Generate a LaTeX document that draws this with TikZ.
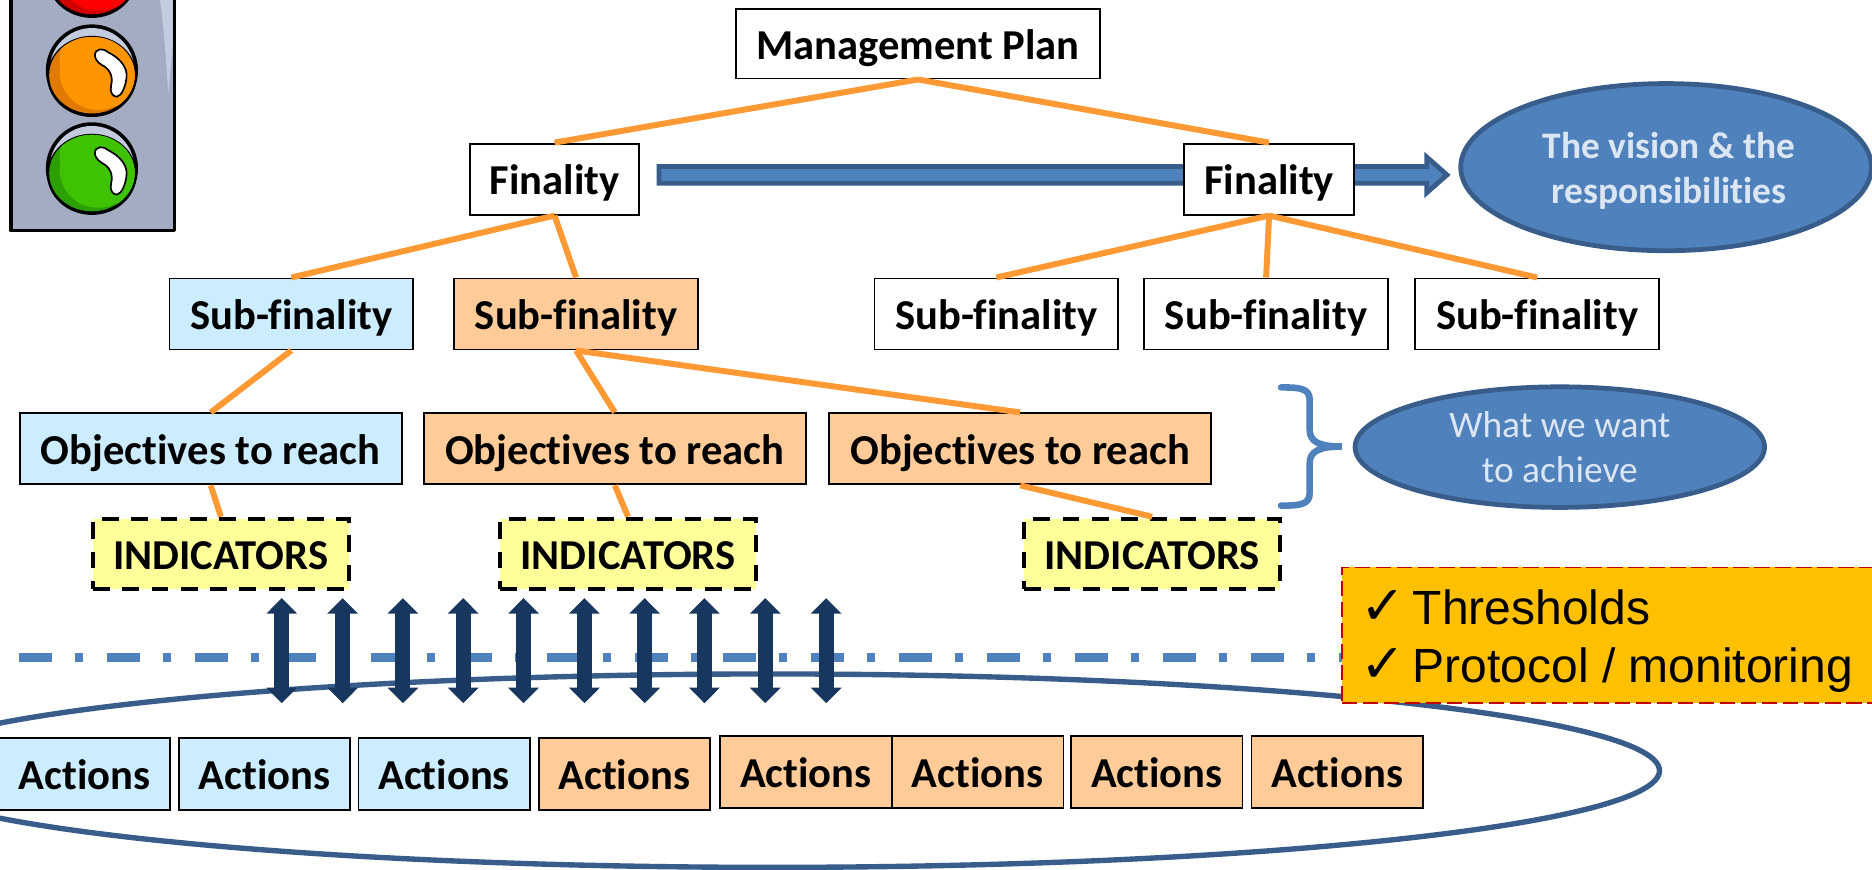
\documentclass[tikz,border=0pt]{standalone}
\usepackage{fontspec}
\setmainfont[Ligatures=NoCommon]{Carlito}
\newfontfamily\arialf{Liberation Sans}
\newfontfamily\dejaf{DejaVu Sans}
\usetikzlibrary{arrows.meta,calc,shapes.geometric}
\definecolor{lblue}{HTML}{CCECFF}
\definecolor{lorange}{HTML}{FFCC99}
\definecolor{lyellow}{HTML}{FFFF99}
\definecolor{conn}{HTML}{FF9933}
\definecolor{accent}{HTML}{4F81BD}
\definecolor{accentd}{HTML}{385D8A}
\definecolor{navyd}{HTML}{17375E}
\definecolor{ptext}{HTML}{DCE6F2}
\definecolor{amber}{HTML}{FFC000}
\definecolor{slate}{HTML}{A3ACC2}
\definecolor{slatel}{HTML}{C3CBDF}
\definecolor{redA}{HTML}{FF0000}
\definecolor{redB}{HTML}{D00000}
\definecolor{orgA}{HTML}{FF9500}
\definecolor{orgB}{HTML}{E07A00}
\definecolor{grnA}{HTML}{3FC300}
\definecolor{grnB}{HTML}{2CA000}
\newcommand{\uu}{0.597pt}
\newcommand{\chk}{\makebox[23.9pt][l]{\hspace*{-2.5pt}\smash{\dejaf\fontsize{27}{27}\selectfont ✓}}}
\tikzset{
 x=0.597pt,y=-0.597pt,
 boxbase/.style={draw=black,line width=1.6*\uu,inner sep=0pt,text height=18pt,text depth=2.4pt,font=\fontsize{21.3}{25}\selectfont\bfseries,text=black,align=center},
 mgmtbox/.style={boxbase,fill=white,minimum width=305*\uu,minimum height=58.5*\uu},
 finbox/.style={boxbase,fill=white,minimum width=142*\uu,minimum height=59.5*\uu},
 subbox/.style={boxbase,minimum width=204*\uu,minimum height=59.5*\uu},
 objbox/.style={boxbase,minimum width=320*\uu,minimum height=59.5*\uu},
 indbox/.style={boxbase,fill=lyellow,dash pattern=on 14*\uu off 10.5*\uu,line width=3.4*\uu,minimum width=214*\uu,minimum height=59*\uu},
 actbox/.style={boxbase,minimum width=143.5*\uu,minimum height=60.5*\uu},
 bubble/.style={ellipse,draw=accentd,fill=accent,line width=4*\uu,text=ptext,align=center,inner sep=0pt,font=\fontsize{18.7}{22.5}\selectfont},
 bubbletext/.style={text=ptext,align=center,inner sep=0pt},
 link/.style={draw=conn,line width=5*\uu},
 dbl/.style={draw=navyd,line width=12.5*\uu,{Triangle[length=13*\uu,width=25*\uu]}-{Triangle[length=13*\uu,width=25*\uu]}},
}
\newcommand{\lamp}[3]{%
 \begin{scope}[shift={#1}]
  \fill[black] (0,0) circle[radius=38.6];
  \fill[slatel] (0,0) circle[radius=35.5];
  \fill[black] (0,5) ellipse[x radius=37.5,y radius=34];
  \begin{scope}
   \clip (0,4) ellipse[x radius=35.8,y radius=32];
   \fill[#3] (-40,-40) rectangle (40,40);
   \fill[#2] (5,1) circle[radius=32];
   \fill[#2] (5,-10) circle[radius=32];
   \fill[#2] (25,0) circle[radius=30];
  \end{scope}
  \path[fill=white,draw=black,line width=1.4*\uu] (2.5,-12) .. controls (2,-19) and (10,-19) .. (14,-15) .. controls (24,-10) and (30,-2) .. (29,6) .. controls (28,14) and (25,21) .. (21,22) .. controls (17,22) and (15,18) .. (16,13) .. controls (18,5) and (15,0) .. (11,-3) .. controls (7,-5) and (3,-8) .. (2.5,-12) -- cycle;
 \end{scope}}
\begin{document}
\begin{tikzpicture}
\path[use as bounding box,clip] (0,0) rectangle (1568,728.7);
\fill[white] (0,0) rectangle (1568,728.7);
% traffic light
\path[fill=slate,draw=black,line width=3*\uu,line join=round] (9,-10) -- (9,193) -- (146,193) -- (146,-10) -- cycle;
\fill[slatel] (134,0) -- (144.5,0) -- (144.5,40) -- (141,78) .. controls (139,50) and (137,20) .. (134,0) -- cycle;
\lamp{(77,-24)}{redA}{redB}
\lamp{(77,59)}{orgA}{orgB}
\lamp{(77,141)}{grnA}{grnB}
% dash-dot separator
\coordinate (sepL) at (16,551);
\coordinate (sepR) at (1130,551);
\draw[accent,line width=7.5*\uu,dash pattern=on 27.4*\uu off 19.3*\uu on 7*\uu off 20*\uu] (sepL) -- (sepR);
% big ellipse
\node[ellipse,draw=accentd,line width=4.5*\uu,minimum width=1486*\uu,minimum height=162*\uu,inner sep=0pt] (actset) at (647,645.5) {};
% orange box
\node[draw=red!75!black,dash pattern=on 12.8*\uu off 4.8*\uu,line width=1.5*\uu,fill=amber,minimum width=448*\uu,minimum height=113.5*\uu,inner sep=0pt] (noteb) at (1348,532) {};
\node[anchor=west,inner sep=0pt,align=left,font=\arialf\fontsize{24}{29}\selectfont,text=black] (notet) at (1143,537) {\chk Thresholds\\\chk Protocol / monitoring};
% main arrow
\coordinate (arrL) at (552,146.5);
\coordinate (arrT) at (1212,146.5);
\path[fill=accent,draw=accentd,line width=4*\uu,line join=miter] ($(arrL)+(0,-7)$) -- ($(arrT)+(-17,-7)$) -- ($(arrT)+(-17,-15)$) -- (arrT) -- ($(arrT)+(-17,15)$) -- ($(arrT)+(-17,7)$) -- ($(arrL)+(0,7)$) -- cycle;
% nodes
\node[mgmtbox] (plan) at (769,36.5) {Management Plan};
\node[finbox] (finA) at (464.5,150) {Finality};
\node[finbox] (finB) at (1063,150) {Finality};
\node[subbox,fill=lblue] (subA) at (244,263) {Sub-finality};
\node[subbox,fill=lorange] (subB) at (482.5,263) {Sub-finality};
\node[subbox,fill=white] (subC) at (834.5,263) {Sub-finality};
\node[subbox,fill=white] (subD) at (1060.5,263) {Sub-finality};
\node[subbox,fill=white] (subE) at (1287.5,263) {Sub-finality};
\node[objbox,fill=lblue] (objA) at (176.5,376) {Objectives to reach};
\node[objbox,fill=lorange] (objB) at (515,376) {Objectives to reach};
\node[objbox,fill=lorange] (objC) at (854.5,376) {Objectives to reach};
\node[indbox] (indA) at (185,464) {INDICATORS};
\node[indbox] (indB) at (526,464) {INDICATORS};
\node[indbox] (indC) at (965,464) {INDICATORS};
\node[actbox,fill=lblue] (actA) at (71,648.5) {Actions};
\node[actbox,fill=lblue] (actB) at (221.5,648.5) {Actions};
\node[actbox,fill=lblue] (actC) at (372,648.5) {Actions};
\node[actbox,fill=lorange] (actD) at (523,648.5) {Actions};
\node[actbox,fill=lorange] (actE) at (675,646.5) {Actions};
\node[actbox,fill=lorange] (actF) at (819,646.5) {Actions};
\node[actbox,fill=lorange] (actG) at (969,646.5) {Actions};
\node[actbox,fill=lorange] (actH) at (1120,646.5) {Actions};
\node[bubble,minimum width=344*\uu,minimum height=140*\uu] (vision) at (1395.5,140) {};
\node[bubbletext,font=\fontsize{18.7}{22.5}\selectfont\bfseries] (visiontxt) at (1398,143) {The vision \& the\\responsibilities};
\node[bubble,minimum width=343*\uu,minimum height=101*\uu] (want) at (1306.5,374.5) {What we want\\to achieve};
% tree links
\draw[link] (plan.south) -- (finA.north);
\draw[link] (plan.south) -- (finB.north);
\draw[link] (finA.south) -- (subA.north);
\draw[link] (finA.south) -- (subB.north);
\draw[link] (finB.south) -- (subC.north);
\draw[link] (finB.south) -- (subD.north);
\draw[link] (finB.south) -- (subE.north);
\draw[link] (subA.south) -- (objA.north);
\draw[link] (subB.south) -- (objB.north);
\draw[link] (subB.south) -- (objC.north);
\draw[link] (objA.south) -- (indA.north);
\draw[link] (objB.south) -- (indB.north);
\draw[link] (objC.south) -- (indC.north);
% brace
\draw[accent,line width=5.5*\uu,line cap=round] (1073,324.5) .. controls (1088,324.5) and (1097,325) .. (1097,335) -- (1097,360) .. controls (1097,370) and (1105,374) .. (1124,374) .. controls (1105,374) and (1097,378) .. (1097,388) -- (1097,413) .. controls (1097,423) and (1088,423.5) .. (1073,423.5);
% double arrows
\foreach \i/\xx in {1/236,2/287,3/337.5,4/388,5/438.5,6/489.5,7/540,8/590,9/641,10/692}{
 \coordinate (up\i) at (\xx,501);
 \coordinate (dn\i) at (\xx,589);
 \draw[dbl] (up\i) -- (dn\i);
}
\end{tikzpicture}
\end{document}
